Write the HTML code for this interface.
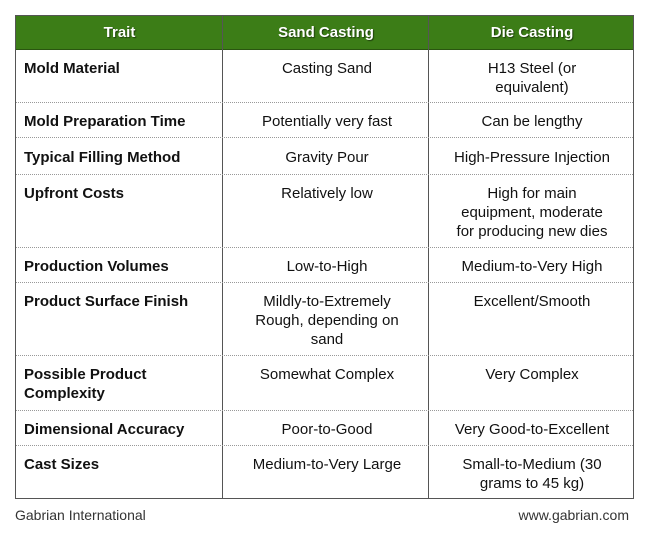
<!DOCTYPE html>
<html><head><meta charset="utf-8"><style>
body{margin:0;width:645px;height:538px;background:#fff;font-family:"Liberation Sans",sans-serif;position:relative;overflow:hidden;color:#111}
.t{position:absolute;left:15px;top:15px;width:619px;height:484px;border:1px solid #555;box-sizing:border-box}
.hd{position:absolute;left:0;top:0;width:100%;height:33px;background:#3c7d17;border-bottom:1px solid #2a5510}
.h{position:absolute;top:0;height:33px;line-height:33px;text-align:center;color:#fff;font-weight:bold;font-size:15px;text-shadow:1px 1px 1px rgba(0,0,0,.5)}
.vl{position:absolute;top:0;bottom:0;width:1px;background:#555}
.hl{position:absolute;left:0;width:100%;border-top:1px dotted #999}
.c{position:absolute;font-size:15px;line-height:19px}
.l{font-weight:bold;left:8px;width:200px}
.s{left:208px;width:206px;text-align:center}
.d{left:414px;width:204px;text-align:center}
.f{position:absolute;top:507px;font-size:14px;color:#333}
</style></head><body>
<div class="t">
<div class="hd">
<div class="h" style="left:0;width:207px">Trait</div>
<div class="h" style="left:207px;width:206px">Sand Casting</div>
<div class="h" style="left:413px;width:206px">Die Casting</div>
</div>
<div class="vl" style="left:206px"></div><div class="vl" style="left:412px"></div>
<div class="hl" style="top:86px"></div><div class="hl" style="top:121px"></div><div class="hl" style="top:158px"></div><div class="hl" style="top:231px"></div><div class="hl" style="top:266px"></div><div class="hl" style="top:339px"></div><div class="hl" style="top:394px"></div><div class="hl" style="top:429px"></div>

<div class="c l" style="top:43px">Mold Material</div>
<div class="c s" style="top:43px">Casting Sand</div>
<div class="c d" style="top:43px">H13 Steel (or<br>equivalent)</div>

<div class="c l" style="top:96px">Mold Preparation Time</div>
<div class="c s" style="top:96px">Potentially very fast</div>
<div class="c d" style="top:96px">Can be lengthy</div>

<div class="c l" style="top:132px">Typical Filling Method</div>
<div class="c s" style="top:132px">Gravity Pour</div>
<div class="c d" style="top:132px">High-Pressure Injection</div>

<div class="c l" style="top:168px">Upfront Costs</div>
<div class="c s" style="top:168px">Relatively low</div>
<div class="c d" style="top:168px">High for main<br>equipment, moderate<br>for producing new dies</div>

<div class="c l" style="top:241px">Production Volumes</div>
<div class="c s" style="top:241px">Low-to-High</div>
<div class="c d" style="top:241px">Medium-to-Very High</div>

<div class="c l" style="top:276px">Product Surface Finish</div>
<div class="c s" style="top:276px">Mildly-to-Extremely<br>Rough, depending on<br>sand</div>
<div class="c d" style="top:276px">Excellent/Smooth</div>

<div class="c l" style="top:349px">Possible Product<br>Complexity</div>
<div class="c s" style="top:349px">Somewhat Complex</div>
<div class="c d" style="top:349px">Very Complex</div>

<div class="c l" style="top:404px">Dimensional Accuracy</div>
<div class="c s" style="top:404px">Poor-to-Good</div>
<div class="c d" style="top:404px">Very Good-to-Excellent</div>

<div class="c l" style="top:439px">Cast Sizes</div>
<div class="c s" style="top:439px">Medium-to-Very Large</div>
<div class="c d" style="top:439px">Small-to-Medium (30<br>grams to 45 kg)</div>
</div>
<div class="f" style="left:15px">Gabrian International</div>
<div class="f" style="right:16px">www.gabrian.com</div>
</body></html>
